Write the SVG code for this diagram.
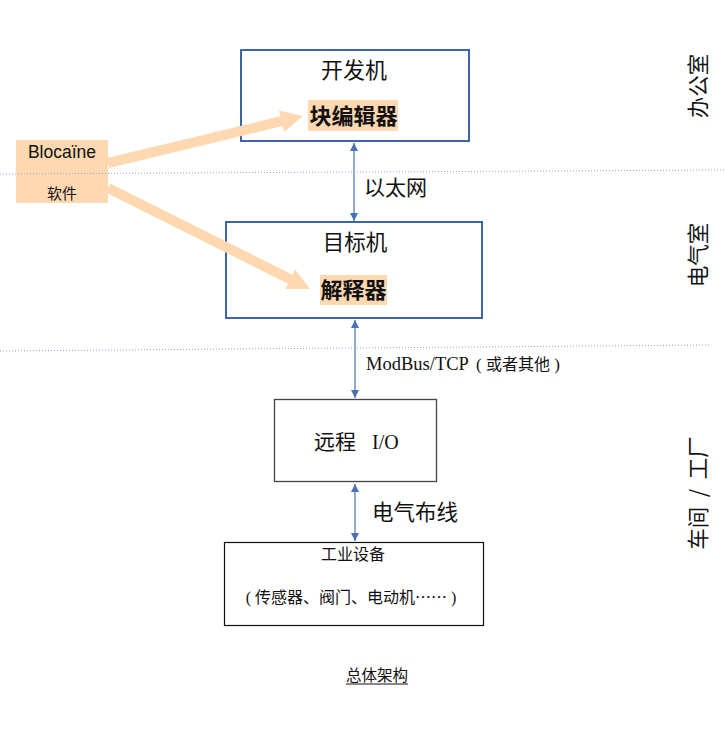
<svg xmlns="http://www.w3.org/2000/svg" width="725" height="753" viewBox="0 0 725 753">
<style>
.t{font-family:"Noto Sans CJK SC","Liberation Sans",sans-serif;fill:#111}
.s{font-family:"Liberation Serif","Noto Sans CJK SC",serif;fill:#111}
.b{font-family:"Noto Sans CJK SC",sans-serif;font-weight:bold;fill:#111}
.box{fill:#fff;stroke-width:2}
.dot{stroke:#8fa8d0;stroke-width:1;stroke-dasharray:1 2;fill:none}
.con{stroke:#4a72b0;stroke-width:1.2;fill:none;marker-start:url(#ah);marker-end:url(#ah)}
.peach{fill:#fdd8b0}
</style>
<defs>
<marker id="ah" viewBox="0 0 10 10" refX="10" refY="5" markerWidth="8" markerHeight="8" markerUnits="userSpaceOnUse" orient="auto-start-reverse">
<path d="M0,0 L10,5 L0,10 z" fill="#4a72b0"/>
</marker>
</defs>
<rect width="725" height="753" fill="#fff"/>
<g id="dev">
<rect class="box" x="241" y="50" width="228" height="91" stroke="#3c64a8"/>
<text class="t" x="354" y="78" font-size="22" text-anchor="middle">开发机</text>
<rect class="peach" x="308" y="100" width="90" height="31"/>
<text class="b" x="353.5" y="124" font-size="22" text-anchor="middle">块编辑器</text>
</g>
<g id="target">
<rect class="box" x="226" y="222" width="256" height="96" stroke="#3c64a8"/>
<text class="t" x="355" y="250" font-size="21.5" text-anchor="middle">目标机</text>
<rect class="peach" x="320" y="275" width="67" height="30"/>
<text class="b" x="353.5" y="298" font-size="22" text-anchor="middle">解释器</text>
</g>
<g id="remoteio">
<rect x="274.5" y="399.5" width="162" height="82" fill="#fff" stroke="#444" stroke-width="1.3"/>
<text class="t" x="314" y="449" font-size="21">远程<tspan class="s" x="372" font-size="20">I/O</tspan></text>
</g>
<g id="devices">
<rect x="224.5" y="542.5" width="259" height="83" fill="#fff" stroke="#111" stroke-width="1.2"/>
<text class="t" x="353" y="560" font-size="16" text-anchor="middle">工业设备</text>
<text class="t" x="351" y="603" font-size="16" text-anchor="middle" xml:space="preserve"><tspan class="s">( </tspan>传感器、阀门、电动机……<tspan class="s"> )</tspan></text>
</g>
<g id="software">
<rect class="peach" x="16" y="140" width="92" height="63"/>
<text x="62" y="158" font-size="17.5" text-anchor="middle" font-family="Liberation Sans,sans-serif" fill="#111">Blocaïne</text>
<text class="t" x="62" y="199" font-size="15" text-anchor="middle">软件</text>
</g>
<g id="connectors">
<polygon class="peach" points="106.8,158.1 280.4,116.3 279.0,110.5 303,116 284.2,131.9 282.8,126.1 109.2,167.9"/>
<polygon class="peach" points="110.2,183.5 292.5,274.7 295.2,269.4 310,289 285.4,289.0 288.1,283.7 105.8,192.5"/>
<line class="con" x1="354" y1="143" x2="354" y2="221"/>
<line class="con" x1="355" y1="320" x2="355" y2="398"/>
<line class="con" x1="355" y1="484" x2="355" y2="541"/>
<text class="t" x="364" y="195" font-size="21">以太网</text>
<text class="s" x="366" y="370" font-size="18.5" xml:space="preserve">ModBus/TCP<tspan x="476" font-size="17">( </tspan><tspan class="t" font-size="16">或者其他</tspan><tspan font-size="17"> )</tspan></text>
<text class="t" x="372" y="520" font-size="21.5">电气布线</text>
</g>
<g id="zones">
<line class="dot" x1="0" y1="174" x2="725" y2="170"/>
<line class="dot" x1="0" y1="351" x2="710" y2="345"/>
<text class="t" font-size="21.5" text-anchor="middle" transform="translate(706,86) rotate(-90)">办公室</text>
<text class="t" font-size="21.5" text-anchor="middle" transform="translate(706,255) rotate(-90)">电气室</text>
<text class="t" font-size="21.5" text-anchor="middle" transform="translate(706,493) rotate(-90)" xml:space="preserve">车间  /  工厂</text>
</g>
<g id="caption">
<text class="t" x="377" y="681" font-size="15.5" text-anchor="middle">总体架构</text>
<line x1="346" y1="684" x2="408" y2="684" stroke="#111" stroke-width="1"/>
</g>
</svg>
